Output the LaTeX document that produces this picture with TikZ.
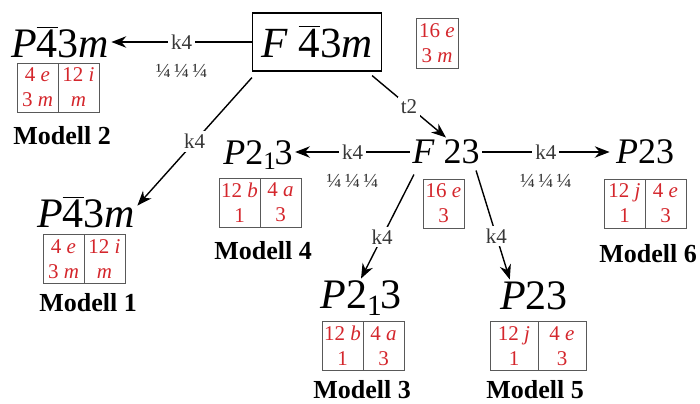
\documentclass[tikz,border=0pt]{standalone}
\usepackage{fontspec}
\setmainfont{Liberation Serif}
\usetikzlibrary{arrows.meta, positioning}
\definecolor{sitered}{RGB}{212,38,44}
\definecolor{lblgray}{RGB}{55,55,55}
\newcommand{\ibar}{$\overline{\mbox{4}}$}
\newcommand{\sgPfm}{\textit{P}\ibar 3\textit{m}}
\newcommand{\sgPtwo}{\textit{P}2\textsubscript{1}\kern-0.06em 3}
\newcommand{\qqq}{¼\,¼\,¼}

\begin{document}
\begin{tikzpicture}[
    x=0.5pt, y=-0.5pt,
    sg/.style={font=\fontsize{21}{24}\selectfont, inner sep=1pt},
    sgmid/.style={font=\fontsize{18}{20}\selectfont, inner sep=1pt},
    site/.style={draw=black!65, line width=0.5pt, outer sep=0pt, text=sitered, align=center, minimum width=20.5pt, minimum height=24.5pt, inner sep=0pt, font=\fontsize{10.5}{12.5}\selectfont},
    model/.style={font=\bfseries\fontsize{13}{15}\selectfont, inner sep=1pt},
    lbl/.style={fill=white, text=lblgray, inner sep=1.5pt, font=\fontsize{10.5}{12}\selectfont},
    frac/.style={text=lblgray, inner sep=1pt, font=\fontsize{10}{11}\selectfont},
    arr/.style={-{Stealth[length=2.6mm, width=2mm]}, line width=0.7pt}
  ]
    \useasboundingbox (0,0) rectangle (700,403);

    % parent group
    \node[draw, line width=0.6pt, minimum width=64.5pt, minimum height=29pt, inner sep=1pt, font=\fontsize{21.5}{24}\selectfont] (top) at (317,42) {\textit{F}\ \ibar 3\textit{m}};
    \node[site, minimum width=21pt, minimum height=25pt] (topsite) at (437,43) {16 \textit{e}\\3 \textit{m}};

    % Modell 2
    \node[sg] (m2) at (60,42) {\sgPfm};
    \node[site] (m2a) at (37.5,87.5) {4 \textit{e}\\3 \textit{m}};
    \node[site, right=0pt of m2a] (m2b) {12 \textit{i}\\\textit{m}};
    \node[model] (m2l) at (62,136) {Modell 2};

    % Modell 1
    \node[sg] (m1) at (86,212) {\sgPfm};
    \node[site] (m1a) at (63.5,259) {4 \textit{e}\\3 \textit{m}};
    \node[site, right=0pt of m1a] (m1b) {12 \textit{i}\\\textit{m}};
    \node[model] (m1l) at (88,303) {Modell 1};

    % F23
    \node[sgmid] (f23) at (446,152) {\textit{F}\ 23};
    \node[site] (f23site) at (443.5,203.5) {16 \textit{e}\\3};

    % Modell 4
    \node[sgmid] (m4) at (258,155) {\sgPtwo};
    \node[site] (m4a) at (239.5,202.5) {12 \textit{b}\\1};
    \node[site, right=0pt of m4a] (m4b) {4 \textit{a}\\3};
    \node[model] (m4l) at (263,251) {Modell 4};

    % Modell 6
    \node[sgmid] (m6) at (645,152) {\textit{P}23};
    \node[site] (m6a) at (624.5,203.5) {12 \textit{j}\\1};
    \node[site, right=0pt of m6a] (m6b) {4 \textit{e}\\3};
    \node[model] (m6l) at (648,254) {Modell 6};

    % Modell 3
    \node[sg] (m3) at (361,298) {\sgPtwo};
    \node[site] (m3a) at (342.5,346) {12 \textit{b}\\1};
    \node[site, right=0pt of m3a] (m3b) {4 \textit{a}\\3};
    \node[model] (m3l) at (362,390) {Modell 3};

    % Modell 5
    \node[sg] (m5) at (534,296) {\textit{P}23};
    \node[site, minimum width=24pt] (m5a) at (514,346) {12 \textit{j}\\1};
    \node[site, minimum width=24pt, right=0pt of m5a] (m5b) {4 \textit{e}\\3};
    \node[model] (m5l) at (535,390) {Modell 5};

    % connectors
    \draw[arr] (top.west) -- node[lbl]{k4} node[frac, below=10pt]{\qqq} (top.west -| m2.east);
    \draw[arr] ([yshift=-3pt]top.south west) -- node[lbl, pos=0.5]{k4} ([yshift=-6pt]m1.north east);
    \draw[arr] ([xshift=-5pt, yshift=-2pt]top.south east) -- node[lbl]{t2} (f23.north);
    \draw[arr] (f23.west) -- node[lbl]{k4} node[frac, below=10pt]{\qqq} (f23.west -| m4.east);
    \draw[arr] (f23.east) -- node[lbl]{k4} node[frac, below=10pt]{\qqq} ([xshift=-2pt]f23.east -| m6.west);
    \draw[arr] ([xshift=2pt, yshift=-4pt]f23.south west) -- node[lbl, pos=0.6]{k4} (m3.north);
    \draw[arr] ([xshift=-3pt, yshift=-2pt]f23.south east) -- node[lbl, pos=0.6]{k4} ([xshift=6pt]m5.north west);
  \end{tikzpicture}
\end{document}
